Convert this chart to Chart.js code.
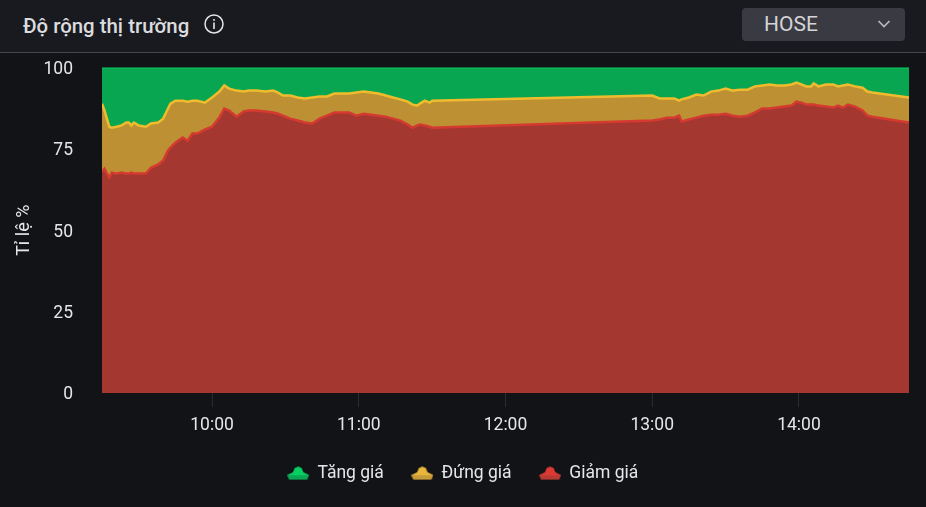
<!DOCTYPE html>
<html lang="vi">
<head>
<meta charset="utf-8">
<title>Độ rộng thị trường</title>
<script src="https://cdn.jsdelivr.net/npm/chart.js@4"></script>
<style>
  html, body { margin: 0; padding: 0; width: 926px; height: 507px; overflow: hidden; background: #121317; font-family: Roboto, sans-serif; }
  .head { position: absolute; z-index: 2; left: 0; top: 0; width: 926px; height: 52px; background: #191a1f; border-bottom: 1px solid #46474c; }
  .title { position: absolute; left: 23px; top: 14px; font-size: 20.4px; line-height: 24px; font-weight: 500; color: #dcdcdf; }
  .info { position: absolute; left: 203px; top: 13px; }
  .select { position: absolute; left: 742px; top: 8px; width: 163px; height: 33px; background: #3a3b42; border-radius: 4px; }
  .select span { position: absolute; left: 22px; top: 4px; font-size: 21px; line-height: 25px; color: #d4d4d8; }
  .select svg { position: absolute; left: 135px; top: 11px; }
  #wrap { position: absolute; left: 0; top: 36px; width: 926px; height: 456px; }
</style>
</head>
<body>
<div class="head">
  <div class="title">Độ rộng thị trường</div>
  <svg class="info" width="22" height="22" viewBox="0 0 22 22">
    <circle cx="11" cy="11" r="9" fill="none" stroke="#e4e4e6" stroke-width="1.5"/>
    <rect x="10.2" y="9.5" width="1.6" height="6.5" fill="#e4e4e6"/>
    <rect x="10.2" y="6" width="1.6" height="1.8" fill="#e4e4e6"/>
  </svg>
  <div class="select">
    <span>HOSE</span>
    <svg width="14" height="10" viewBox="0 0 14 10"><path d="M1.5 2 L7 7.5 L12.5 2" fill="none" stroke="#b8b8bd" stroke-width="1.7"/></svg>
  </div>
</div>
<div id="wrap"><canvas id="chart" width="926" height="456"></canvas></div>
<script>
const times = ["09:15","09:16","09:17","09:18","09:19","09:21","09:23","09:25","09:26","09:27","09:28","09:30","09:33","09:35","09:38","09:40","09:42","09:43","09:45","09:48","09:50","09:52","09:54","09:57",
  "10:00","10:03","10:05","10:07","10:10","10:13","10:15","10:18","10:22","10:25","10:27","10:29","10:32","10:35","10:38","10:41","10:44","10:47","10:50","10:53","10:56","10:59",
  "11:02","11:05","11:08","11:11","11:14","11:17","11:20","11:22","11:24","11:25","11:27","11:29","11:30",
  "13:00","13:03","13:06","13:09","13:11","13:12","13:15","13:18","13:21","13:24","13:27","13:30","13:33","13:36","13:39","13:42","13:45","13:48","13:51","13:54","13:57","13:59",
  "14:01","14:03","14:05","14:06","14:08","14:11","14:14","14:16","14:18","14:20","14:23","14:26","14:28","14:30","14:45"];

const giamGia = [68.0,68.9,67.4,66.2,67.7,67.4,67.7,67.4,67.4,67.7,67.4,67.4,67.4,69.2,70.2,71.4,74.5,75.4,76.9,78.5,77.5,79.7,79.7,80.9,
  81.8,84.6,87.4,86.8,84.9,86.5,86.8,86.8,86.5,86.2,85.8,85.2,84.3,83.7,83.1,82.8,84.3,85.2,86.2,86.2,86.2,85.2,
  85.8,85.5,85.2,84.9,84.3,83.7,82.5,81.5,82.2,82.5,82.2,81.8,81.5,
  83.7,84.0,84.6,84.6,85.2,83.4,84.0,84.6,85.2,85.5,85.5,85.8,85.2,84.9,85.2,86.2,87.4,87.4,87.7,88.0,88.3,89.5,
  89.2,88.6,88.6,88.6,88.3,88.0,87.7,88.3,87.7,88.6,88.0,86.8,85.2,84.9,83.1];

const dungGia = [20.9,17.9,16.9,15.6,13.8,14.4,14.5,15.7,15.7,14.5,15.7,14.8,14.4,13.6,12.9,12.9,12.9,13.5,12.9,11.3,12.0,10.1,10.1,8.3,
  9.0,8.0,7.1,6.7,8.0,6.1,6.1,6.1,6.1,6.7,6.5,6.2,7.1,7.1,7.4,8.0,6.8,5.9,5.8,5.8,5.8,7.1,
  6.8,6.8,6.8,6.5,6.5,6.5,7.0,7.1,6.1,6.4,7.6,7.4,8.3,
  7.7,6.5,5.9,5.9,4.6,6.8,6.8,7.1,6.2,7.1,7.4,7.7,7.7,8.3,8.0,8.0,7.1,7.4,6.8,6.5,6.5,5.9,
  5.6,5.6,5.6,6.5,5.9,6.8,7.1,5.9,6.8,6.2,6.2,7.0,7.4,7.4,7.7];

const tangGia = [11.1,13.2,15.7,18.2,18.5,18.2,17.8,16.9,16.9,17.8,16.9,17.8,18.2,17.2,16.9,15.7,12.6,11.1,10.2,10.2,10.5,10.2,10.2,10.8,
  9.2,7.4,5.5,6.5,7.1,7.4,7.1,7.1,7.4,7.1,7.7,8.6,8.6,9.2,9.5,9.2,8.9,8.9,8.0,8.0,8.0,7.7,
  7.4,7.7,8.0,8.6,9.2,9.8,10.5,11.4,11.7,11.1,10.2,10.8,10.2,
  8.6,9.5,9.5,9.5,10.2,9.8,9.2,8.3,8.6,7.4,7.1,6.5,7.1,6.8,6.8,5.8,5.5,5.2,5.5,5.5,5.2,4.6,
  5.2,5.8,5.8,4.9,5.8,5.2,5.2,5.8,5.5,5.2,5.8,6.2,7.4,7.7,9.2];

const xTicks = ["10:00","11:00","12:00","13:00","14:00"];
const yTicks = [0,25,50,75,100];

function toMin(t){
  let p = t.split(":");
  return +p[0]*60 + +p[1];
}
function toLabel(v){
  let h = Math.floor(v/60), m = v%60;
  return String(h).padStart(2,"0")+":"+String(m).padStart(2,"0");
}
function series(vals){
  return vals.map((v,i) => ({x: toMin(times[i]), y: v}));
}

// icon of the legend, small hill shape
function legendIcon(top, bottom){
  const c = document.createElement("canvas");
  c.width = 22; c.height = 14;
  const g = c.getContext("2d");
  g.beginPath();
  g.moveTo(0,9); g.lineTo(6,6); g.lineTo(7.5,2); g.lineTo(11,0.5); g.lineTo(14.5,2); g.lineTo(16,6); g.lineTo(22,9);
  g.lineTo(20,13.5); g.lineTo(2,13.5); g.closePath();
  g.fillStyle = bottom; g.fill();
  g.beginPath();
  g.moveTo(0,9); g.lineTo(6,6); g.lineTo(7.5,2); g.lineTo(11,0.5); g.lineTo(14.5,2); g.lineTo(16,6); g.lineTo(22,9);
  g.closePath();
  g.fillStyle = top; g.fill();
  return c;
}

// legend is centred on the whole page, not on the plot
const legendShift = {
  id: "legendShift",
  afterLayout(c){ c.legend.left += 17; }
};

const ctx = document.getElementById("chart").getContext("2d");
new Chart(ctx, {
  type: "line",
  plugins: [legendShift],
  data: {
    datasets: [
      { label: "Giảm giá", data: series(giamGia), fill: "origin", backgroundColor: "#a43830", borderColor: "#d53a30",
        pointStyle: legendIcon("#dc3a33","#b83a34") },
      { label: "Đứng giá", data: series(dungGia), fill: "-1", backgroundColor: "#bd9033", borderColor: "#f0bc2e",
        pointStyle: legendIcon("#e8b63c","#c89a38") },
      { label: "Tăng giá", data: series(tangGia), fill: "-1", backgroundColor: "#08a650", borderColor: "#0abf5c",
        pointStyle: legendIcon("#08cf62","#0aa856") }
    ]
  },
  options: {
    responsive: false,
    animation: false,
    events: [],
    elements: { line: { borderWidth: 2.5, tension: 0 }, point: { radius: 0 } },
    layout: { padding: { top: 14, right: 17, bottom: 0, left: 0 } },
    plugins: {
      tooltip: { enabled: false },
      legend: {
        position: "bottom",
        reverse: true,
        labels: { usePointStyle: true, pointStyleWidth: 21, boxHeight: 16, padding: 28, color: "#e6e6e8", font: { family: "Roboto", size: 17.5 } }
      }
    },
    scales: {
      x: {
        type: "linear",
        min: toMin(times[0]),
        max: toMin(times[times.length-1]),
        afterBuildTicks: s => { s.ticks = xTicks.map(t => ({value: toMin(t)})); },
        afterFit: s => { s.height = 43.5; },
        grid: { drawOnChartArea: false, drawTicks: true, tickLength: 14, color: "#2b2c31" },
        border: { display: false },
        ticks: { callback: v => toLabel(v), color: "#e6e6e8", padding: 8, maxRotation: 0, autoSkip: false, font: { family: "Roboto", size: 17.5 } }
      },
      y: {
        stacked: true,
        min: 0,
        max: 100,
        afterBuildTicks: s => { s.ticks = yTicks.map(v => ({value: v})); },
        afterFit: s => { s.width = 102; },
        grid: { display: false },
        border: { display: false },
        title: { display: true, text: "Tỉ lệ %", color: "#e6e6e8", padding: { top: 14, bottom: 0 }, font: { family: "Roboto", size: 18 } },
        ticks: { color: "#e6e6e8", padding: 21, labelOffset: 2, font: { family: "Roboto", size: 17.5 } }
      }
    }
  }
});
</script>
</body>
</html>
